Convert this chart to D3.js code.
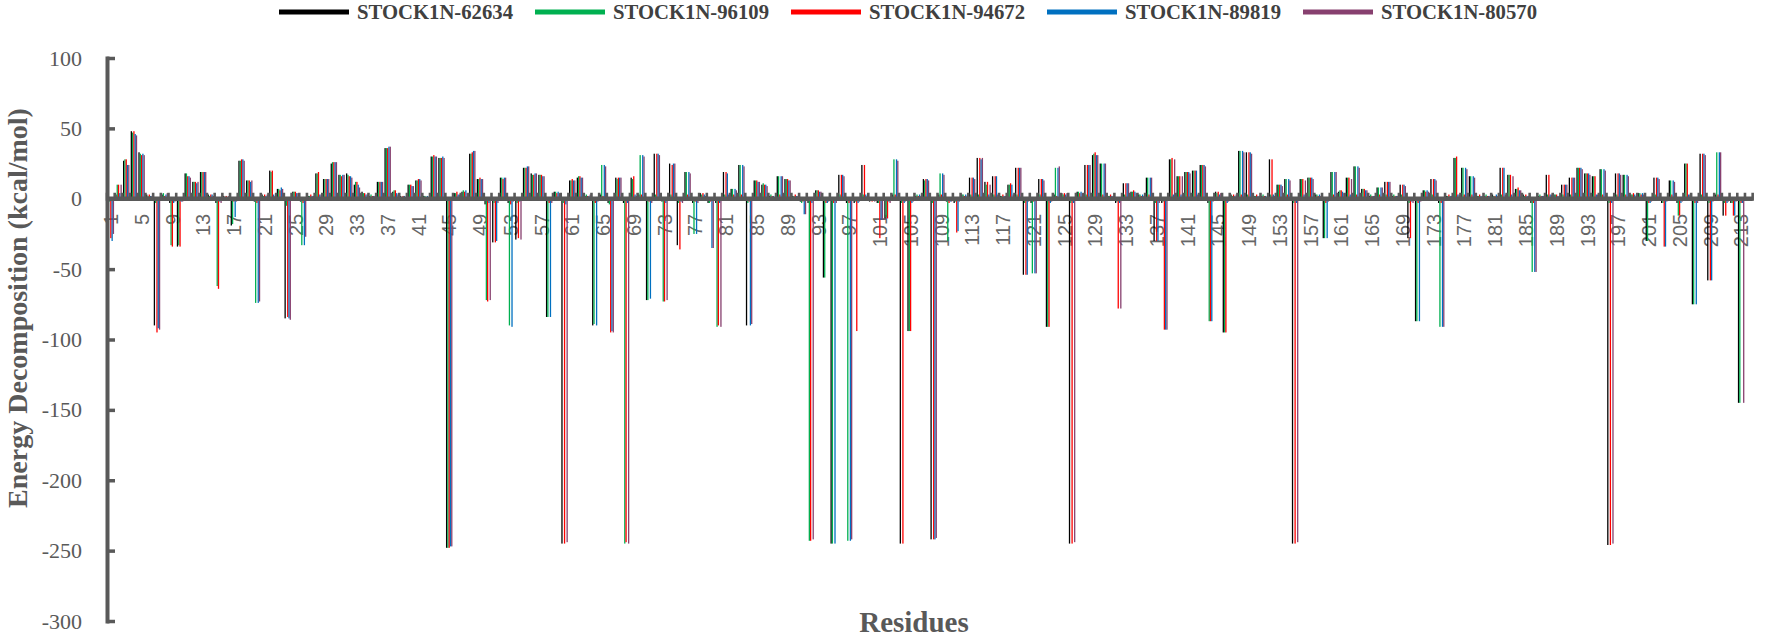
<!DOCTYPE html>
<html><head><meta charset="utf-8">
<script src="https://cdn.jsdelivr.net/npm/d3@7/dist/d3.min.js"></script>
<style>html,body{margin:0;padding:0;background:#fff;} svg{display:block;}</style>
</head><body>
<svg id="chart" width="1769" height="639"></svg>
<script>
// ---------- DATA ----------
const residues = d3.range(1, 215);
const seriesNames = ["STOCK1N-62634", "STOCK1N-96109", "STOCK1N-94672", "STOCK1N-89819", "STOCK1N-80570"];
const seriesColors = ["#000000", "#00B050", "#FF0000", "#0070C0", "#87406F"];

const s62634 = [
-3,3,27,48,33,3,-90,3,-3,-34,
18,12,19,3,-3,2,-19,27,13,-2,
3,20,7,-85,5,-2,2,18,14,25,
17,18,10,5,2,12,36,5,2,10,
13,2,30,29,-248,4,5,32,14,-4,
-31,15,-3,-29,22,18,17,-84,5,-245,
13,15,2,-90,3,-3,15,-3,15,3,
-72,32,-2,25,-33,19,-3,4,-3,-3,
19,7,24,-90,13,10,2,16,14,2,
-2,-3,6,-56,-245,17,-3,-3,24,-2,
-3,-14,3,-245,-94,2,14,-242,3,-2,
-3,3,15,29,12,16,2,10,22,-54,
-3,14,-91,3,4,-245,5,24,31,25,
2,-3,11,5,3,15,-30,-3,28,16,
19,20,24,-3,5,-95,3,34,33,2,
2,28,10,14,-245,14,15,3,-28,19,
5,15,23,7,2,8,12,2,10,-28,
-87,6,14,-3,2,29,22,16,2,2,
3,22,17,7,3,-3,2,17,3,10,
15,22,18,16,21,-246,18,17,3,4,
-30,15,-3,13,-3,25,-75,32,-58,3,
-12,-3,-145,0];

const s96109 = [
-2,10,28,47,32,2,-3,4,-33,-33,
18,12,19,2,-62,1,-18,27,13,-74,
2,19,7,-5,5,-33,2,18,14,26,
17,17,12,4,3,12,36,6,1,10,
13,2,30,29,-248,4,6,32,14,-72,
-3,15,-90,-3,22,17,17,-84,5,-3,
13,16,3,-89,24,-4,14,-245,14,31,
-72,3,-73,3,-3,19,-25,3,-3,-91,
3,7,24,-3,13,11,3,16,14,2,
-3,-243,6,-56,-245,3,-243,-2,3,-1,
-3,-13,28,-3,-94,3,13,-3,18,-30,
-2,3,3,3,10,3,2,10,3,-3,
-53,3,-91,22,3,-3,5,3,32,25,
2,-2,3,5,3,15,-3,-2,28,16,
19,20,24,-87,4,-95,2,34,3,2,
3,3,10,14,-3,14,15,3,-28,19,
6,15,23,7,3,8,3,3,3,-3,
-87,6,3,-91,2,29,22,16,2,3,
2,3,17,7,2,-52,3,3,3,3,
3,22,18,16,21,-3,3,17,3,4,
-30,3,-3,13,-12,25,-75,3,-3,33,
-3,-3,-145,0];

const s94672 = [
-28,10,28,48,31,3,-95,2,-34,-34,
16,12,19,3,-64,2,-2,28,13,-3,
3,20,6,-84,5,-3,3,19,14,26,
16,16,12,4,2,12,36,6,2,10,
14,1,31,29,-248,5,5,33,15,-73,
-31,14,-4,-28,22,17,17,-3,4,-245,
14,16,2,-3,2,-95,15,-244,16,3,
-2,32,-73,24,-36,3,-2,4,-2,-90,
19,3,3,-2,13,10,2,3,14,3,
-2,-243,6,-3,-3,17,-3,-94,24,-2,
-28,-14,3,-245,-94,2,14,-242,3,-3,
-24,2,15,29,12,16,3,11,22,-54,
-2,14,-91,2,4,-245,4,24,33,3,
3,-78,11,6,2,3,-30,-93,29,16,
19,20,24,-87,5,-95,3,3,33,3,
2,28,10,3,-245,14,15,2,-3,3,
6,15,3,7,2,3,12,2,10,-28,
-3,5,14,-3,3,30,3,3,3,2,
2,22,17,8,3,-3,2,17,3,10,
15,22,18,16,3,-246,18,3,4,3,
-3,15,-34,3,-12,25,-3,32,-58,3,
-12,-12,-3,0];

const s89819 = [
-30,4,24,46,32,2,-92,3,-3,-2,
16,11,19,3,-2,1,-13,28,12,-74,
2,3,8,-85,4,-33,2,3,14,26,
17,16,10,3,2,12,37,4,2,9,
14,2,30,30,-247,3,6,34,14,-3,
-30,15,-91,-2,23,18,16,-84,5,-4,
13,15,2,-90,24,-94,15,-3,3,31,
-71,32,-3,25,-2,19,-25,3,-35,-3,
18,7,24,-90,12,10,2,16,13,2,
-11,-3,5,-3,-245,17,-243,-3,3,-1,
-15,-2,28,-3,-3,3,14,-242,18,-2,
-23,3,15,28,3,16,2,10,22,-54,
-53,14,-3,22,3,-3,5,24,31,25,
2,-3,11,5,3,15,-30,-93,3,3,
19,20,24,-87,3,-3,2,34,33,2,
2,3,10,14,-3,3,15,3,-28,19,
5,3,23,6,2,8,12,2,10,-2,
-87,6,14,-91,2,3,22,16,2,2,
3,22,3,6,2,-52,2,3,2,10,
15,22,18,3,21,-3,18,17,3,4,
-3,15,-34,13,-3,3,-75,32,-58,33,
-3,-12,-3,0];

const s80570 = [
-25,10,24,45,31,2,-93,4,-2,-2,
15,12,19,2,-3,2,-2,27,13,-73,
3,2,7,-86,4,-27,2,3,14,26,
17,15,8,3,2,12,37,3,1,9,
13,1,30,29,-247,3,4,34,14,-72,
-3,15,-2,-29,23,18,16,-3,4,-244,
13,15,3,-2,23,-95,15,-245,2,30,
-3,31,-72,25,-3,18,-3,2,-35,-91,
3,6,23,-89,12,9,1,16,13,2,
-11,-242,5,-2,-3,16,-242,-2,2,-2,
-15,-3,27,-2,-2,2,13,-241,17,-2,
-2,2,14,29,10,3,2,3,22,-2,
-53,13,-2,23,4,-244,4,24,31,25,
2,-78,11,4,2,15,-3,-93,28,16,
18,3,23,-2,4,-2,3,33,32,2,
1,2,9,13,-244,13,14,2,-2,19,
4,14,22,6,2,8,12,2,9,-3,
-2,5,13,-91,2,3,21,15,2,2,
2,3,16,6,2,-52,2,3,2,10,
15,21,17,3,20,-245,17,16,2,3,
-2,14,-2,12,-2,3,-3,31,-2,33,
-2,-2,-145,0];

const seriesValues = [s62634, s96109, s94672, s89819, s80570];
const yTicks = [100, 50, 0, -50, -100, -150, -200, -250, -300];
const xTickLabels = residues.filter(r => (r - 1) % 4 === 0 && r <= 213);

// ---------- CHART ----------
const svg = d3.select("#chart");
svg.append("rect").attr("width", 1769).attr("height", 639).attr("fill", "#fff");

const axisColor = "#595959";
const serif = "'Liberation Serif','Times New Roman',serif";
const sans = "'Liberation Sans',Arial,sans-serif";

const x0 = 107, band = 7.69;
const x = d3.scaleBand().domain(residues).range([x0, x0 + band * residues.length]).paddingInner(0).paddingOuter(0);
const y = d3.scaleLinear().domain([-300, 100]).range([621, 58]);
const groupW = x.bandwidth() * 0.84;
const xs = d3.scaleBand().domain(d3.range(seriesNames.length)).range([0, groupW]);
const yZero = y(0);

// x tick labels (drawn beneath bars)
const xAxis = d3.axisBottom(x).tickValues(xTickLabels).tickSize(0).tickPadding(0);
const gx = svg.append("g").attr("transform", `translate(0,${yZero})`).call(xAxis);
gx.select(".domain").remove();
gx.selectAll("text")
  .attr("transform", "rotate(-90)")
  .attr("x", -15).attr("y", 0).attr("dy", "0.36em")
  .attr("text-anchor", "end")
  .style("font-family", sans).style("font-size", "20px").attr("fill", "#666666");

// bars
const bars = svg.append("g");
seriesValues.forEach((vals, si) => {
  bars.append("g").attr("fill", seriesColors[si])
    .selectAll("rect").data(vals.map((v, i) => ({ r: residues[i], v })))
    .join("rect")
    .attr("x", d => x(d.r) + (x.bandwidth() - groupW) / 2 + xs(si))
    .attr("width", xs.bandwidth())
    .attr("y", d => Math.min(y(d.v), yZero))
    .attr("height", d => Math.abs(y(d.v) - yZero));
});

// x axis line with category tick marks
const xa = svg.append("g");
xa.append("line").attr("x1", x0).attr("x2", x.range()[1]).attr("y1", yZero).attr("y2", yZero)
  .attr("stroke", axisColor).attr("stroke-width", 4.5);
const bounds = residues.map(r => x(r)).concat([x.range()[1]]);
xa.selectAll("line.tk").data(bounds).join("line").attr("class", "tk")
  .attr("x1", d => d).attr("x2", d => d)
  .attr("y1", yZero - 6).attr("y2", yZero + 2)
  .attr("stroke", axisColor).attr("stroke-width", 2.6);

// y axis
const yAxis = d3.axisLeft(y).tickValues(yTicks).tickFormat(d => String(d))
  .tickSizeInner(-8).tickSizeOuter(0).tickPadding(25);
const gy = svg.append("g").attr("transform", `translate(${x0},0)`).call(yAxis);
gy.select(".domain").attr("stroke", axisColor).attr("stroke-width", 4).attr("stroke-linecap", "square");
gy.selectAll(".tick line").attr("stroke", axisColor).attr("stroke-width", 3.5);
gy.selectAll("text").style("font-family", serif).style("font-size", "22px").attr("fill", axisColor);

// axis titles
svg.append("text")
  .attr("transform", "translate(27,308) rotate(-90)")
  .attr("text-anchor", "middle")
  .style("font-family", serif).style("font-size", "28px").style("font-weight", "bold")
  .attr("fill", axisColor)
  .text("Energy Decomposition (kcal/mol)");
svg.append("text")
  .attr("x", 914).attr("y", 632)
  .attr("text-anchor", "middle")
  .style("font-family", serif).style("font-size", "29px").style("font-weight", "bold")
  .attr("fill", axisColor)
  .text("Residues");

// legend
const legend = svg.append("g");
seriesNames.forEach((name, i) => {
  const lx = 279 + i * 256;
  legend.append("line").attr("x1", lx).attr("x2", lx + 70).attr("y1", 12).attr("y2", 12)
    .attr("stroke", seriesColors[i]).attr("stroke-width", 5);
  legend.append("text").attr("x", lx + 78).attr("y", 18.5)
    .attr("textLength", 156).attr("lengthAdjust", "spacingAndGlyphs")
    .style("font-family", serif).style("font-size", "20px").style("font-weight", "bold")
    .attr("fill", "#404040").text(name);
});
</script>
</body></html>
